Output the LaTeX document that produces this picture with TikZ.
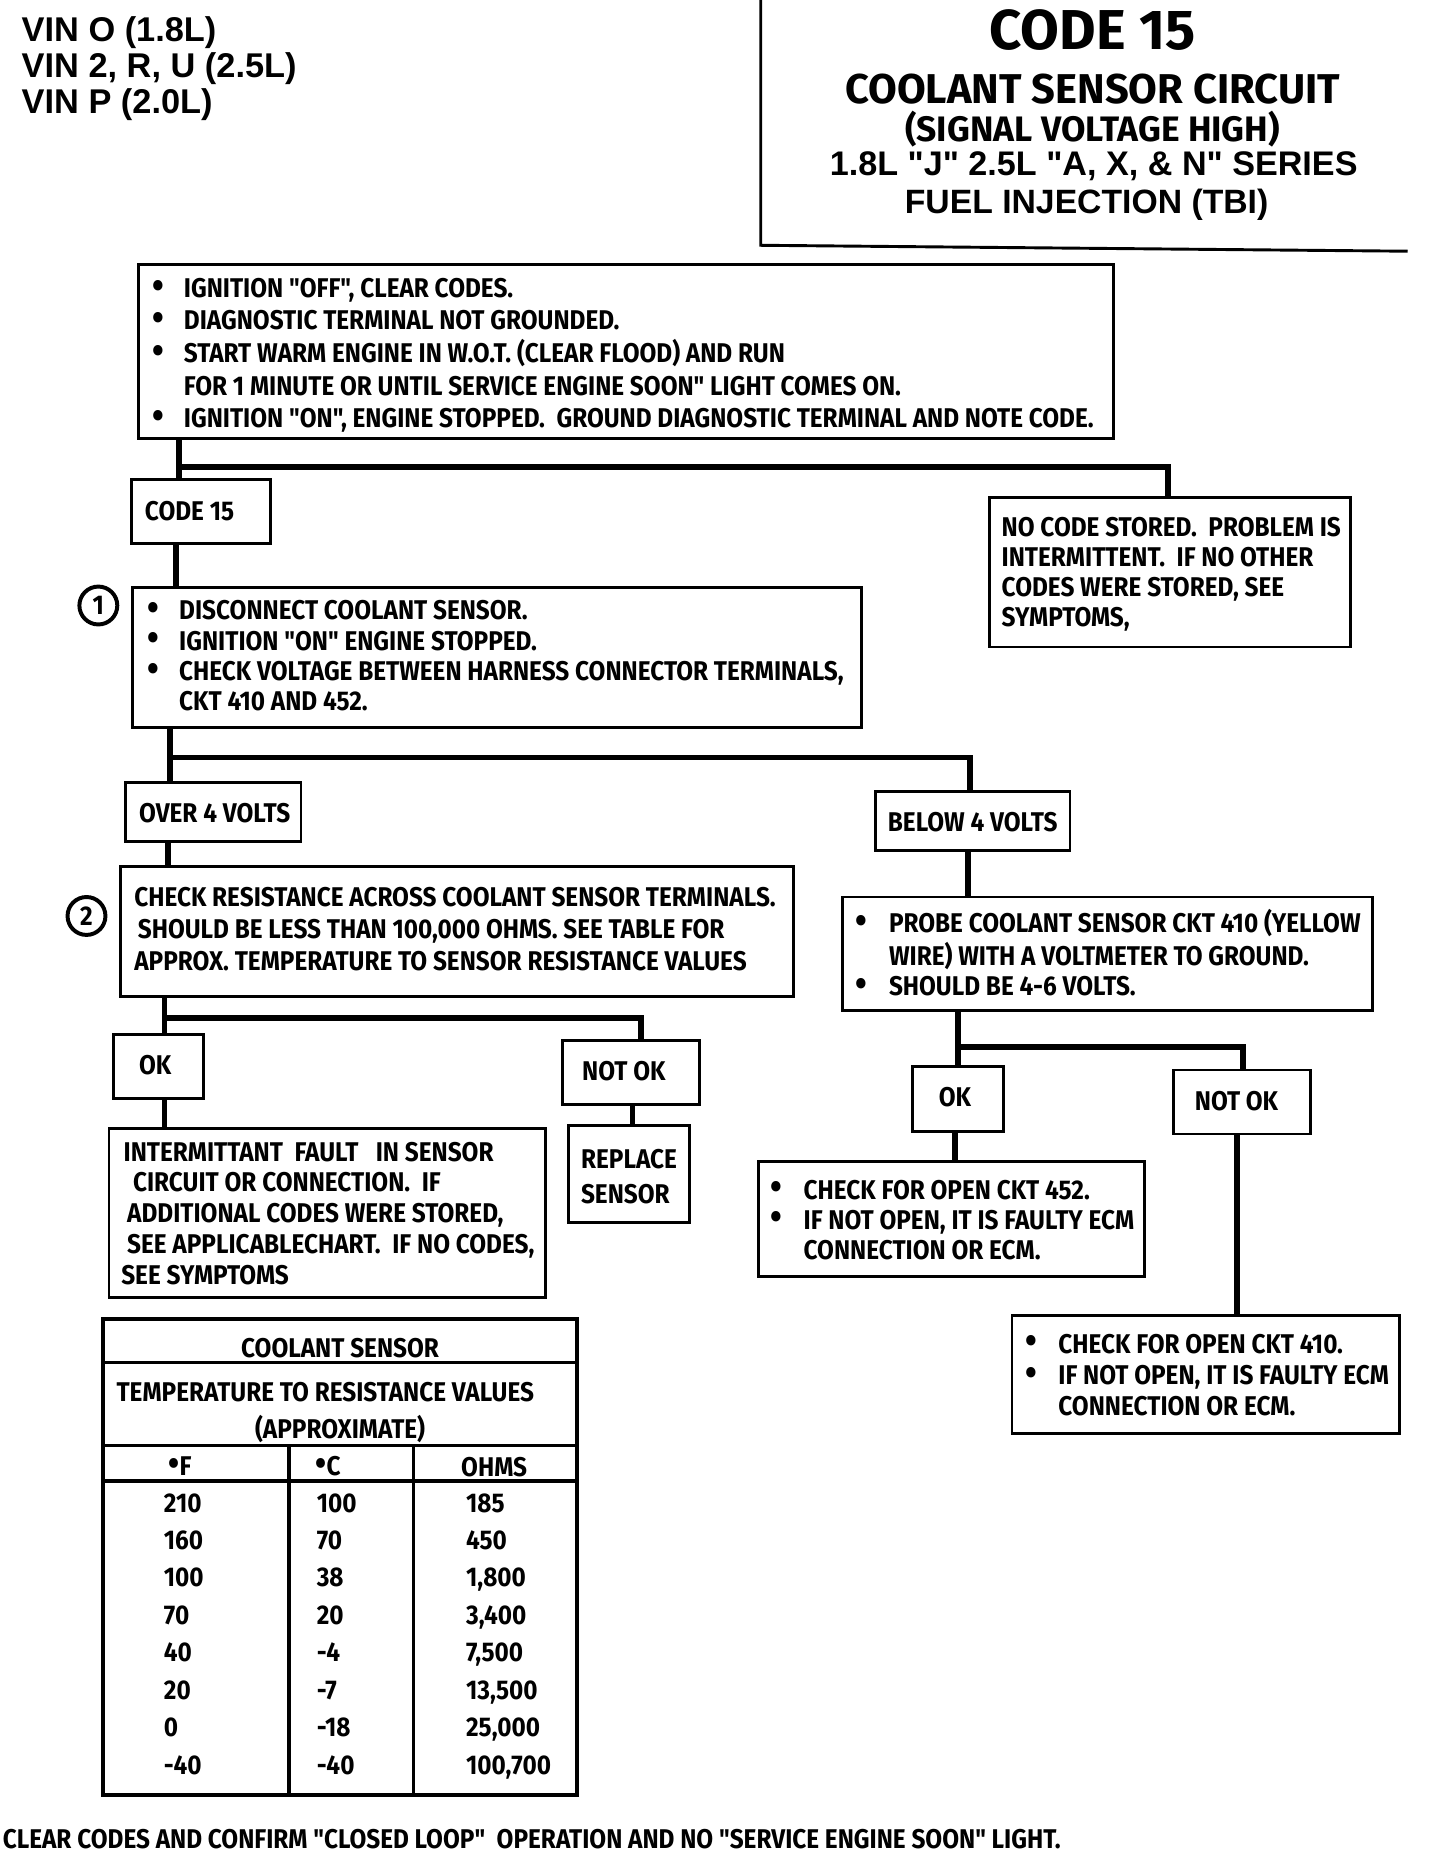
\documentclass[tikz,border=0pt]{standalone}
\usepackage{fontspec}
\setmainfont{Fira Sans}
\newfontfamily\boxfont{Fira Sans}[FakeStretch=0.9]
\newfontfamily\arialfont{Liberation Sans}
\newfontfamily\titlefont{Fira Sans}
\usetikzlibrary{calc,fit}
\newlength\upx \setlength\upx{0.5669pt}
\newcommand\bl[1][27]{\makebox[#1\upx][l]{\smash{\raisebox{-0.3pt}{\fontsize{18}{15}\selectfont •}}}}
\tikzset{
  box/.style={draw, line width=1.4pt, rectangle, inner sep=0pt},
  conn/.style={line width=2.8pt},
  txt/.style={anchor=base west, inner sep=0pt, align=left, font=\boxfont\bfseries\fontsize{13}{#1}\selectfont},
  txt/.default=14.7pt,
  tcell/.style={anchor=base west, inner sep=0pt, font=\boxfont\bfseries\fontsize{13}{15}\selectfont},
  tline/.style={line width=1.7pt},
  circ/.style={draw, circle, line width=1.9pt, minimum size=0.64cm, inner sep=0pt, font=\boxfont\bfseries\fontsize{13}{15}\selectfont},
}
\begin{document}
\begin{tikzpicture}[x=0.02cm, y=-0.02cm]
\useasboundingbox (0,0) rectangle (1215,1568);

% ---------- header ----------
\node[anchor=base west, inner sep=0pt, font=\arialfont\bfseries\fontsize{16.5}{17.3}\selectfont] (vin) at (18,35)
  {\begin{tabular}[t]{@{}l@{}}VIN O (1.8L)\\VIN 2, R, U (2.5L)\\VIN P (2.0L)\end{tabular}};
\draw[line width=1.4pt] (642,0) -- (642,207) -- (1188,212);
\node[anchor=base, inner sep=0pt, font=\titlefont\bfseries\fontsize{27}{28}\selectfont] (t1) at (922,42) {CODE 15};
\node[anchor=base, inner sep=0pt, font=\titlefont\bfseries\fontsize{20}{22}\selectfont] (t2) at (922,87) {COOLANT SENSOR CIRCUIT};
\node[anchor=base, inner sep=0pt, font=\titlefont\bfseries\fontsize{17}{19}\selectfont] (t3) at (922,119) {(SIGNAL VOLTAGE HIGH)};
\node[anchor=base, inner sep=0pt, font=\arialfont\bfseries\fontsize{16.4}{18}\selectfont] (t4) at (923,148) {1.8L "J" 2.5L "A, X, \& N" SERIES};
\node[anchor=base, inner sep=0pt, font=\arialfont\bfseries\fontsize{16.2}{18}\selectfont] (t5) at (917,180) {FUEL INJECTION (TBI)};

% ---------- boxes ----------
\node[box, fit={(117,223) (940,370)}] (A) {};
\node[box, fit={(111,405) (228,459)}] (c15) {};
\node[box, fit={(835,420) (1140,546)}] (nc) {};
\node[box, fit={(112,496) (727,614)}] (B1) {};
\node[box, fit={(106,660) (254,710)}] (ov) {};
\node[box, fit={(739,668) (903,718)}] (be) {};
\node[box, fit={(102,731) (670,841)}] (B2) {};
\node[box, fit={(96,873) (172,927)}] (ok1) {};
\node[box, fit={(475,878) (590,932)}] (nk1) {};
\node[box, fit={(92,952) (460,1095)}] (inter) {};
\node[box, fit={(480,950) (582,1032)}] (repl) {};
\node[box, fit={(711,757) (1158,853)}] (probe) {};
\node[box, fit={(770,900) (847,955)}] (ok2) {};
\node[box, fit={(990,903) (1106,957)}] (nk2) {};
\node[box, fit={(640,980) (966,1077)}] (c452) {};
\node[box, fit={(854,1110) (1181,1210)}] (c410) {};

\node[circ] (n1) at (83,511) {1};
\node[circ] (n2) at (73,773) {2};

% ---------- texts ----------
\node[txt=15.6pt] (At) at (128,251) {\begin{tabular}[t]{@{}l@{}l@{}}
\bl & IGNITION "OFF", CLEAR CODES.\\
\bl & DIAGNOSTIC TERMINAL NOT GROUNDED.\\
\bl & START WARM ENGINE IN W.O.T. (CLEAR FLOOD) AND RUN\\
    & FOR 1 MINUTE OR UNTIL SERVICE ENGINE SOON" LIGHT COMES ON.\\
\bl & IGNITION "ON", ENGINE STOPPED.\ \ GROUND DIAGNOSTIC TERMINAL AND NOTE CODE.
\end{tabular}};
\node[txt] (c15t) at (122,439) {CODE 15};
\node[txt=14.35pt] (nct) at (845,453) {\begin{tabular}[t]{@{}l@{}}
NO CODE STORED.\ \ PROBLEM IS\\
INTERMITTENT.\ \ IF NO OTHER\\
CODES WERE STORED, SEE\\
SYMPTOMS,
\end{tabular}};
\node[txt=14.6pt] (B1t) at (124,523) {\begin{tabular}[t]{@{}l@{}l@{}}
\bl & DISCONNECT COOLANT SENSOR.\\
\bl & IGNITION "ON" ENGINE STOPPED.\\
\bl & CHECK VOLTAGE BETWEEN HARNESS CONNECTOR TERMINALS,\\
    & CKT 410 AND 452.
\end{tabular}};
\node[txt] (ovt) at (117,694) {OVER 4 VOLTS};
\node[txt] (bet) at (749,702) {BELOW 4 VOLTS};
\node[txt=15.3pt] (B2t) at (113,765) {\begin{tabular}[t]{@{}l@{}}
CHECK RESISTANCE ACROSS COOLANT SENSOR TERMINALS.\\
\hspace{3\upx}SHOULD BE LESS THAN 100,000 OHMS. SEE TABLE FOR\\
APPROX. TEMPERATURE TO SENSOR RESISTANCE VALUES
\end{tabular}};
\node[txt] (ok1t) at (117,907) {OK};
\node[txt] (nk1t) at (491,912) {NOT OK};
\node[txt=14.75pt] (intert) at (102,980) {\begin{tabular}[t]{@{}l@{}}
\hspace{2\upx}INTERMITTANT\ \ FAULT\ \ \ IN SENSOR\\
\hspace{10\upx}CIRCUIT OR CONNECTION.\ \ IF\\
\hspace{5\upx}ADDITIONAL CODES WERE STORED,\\
\hspace{5\upx}SEE APPLICABLECHART.\ \ IF NO CODES,\\
SEE SYMPTOMS
\end{tabular}};
\node[txt=17pt] (replt) at (490,986) {\begin{tabular}[t]{@{}l@{}}REPLACE\\SENSOR\end{tabular}};
\node[txt=14.75pt] (probet) at (722,787) {\begin{tabular}[t]{@{}l@{}l@{}}
\bl[28] & PROBE COOLANT SENSOR CKT 410 (YELLOW\\
        & WIRE) WITH A VOLTMETER TO GROUND.\\
\bl[28] & SHOULD BE 4-6 VOLTS.
\end{tabular}};
\node[txt] (ok2t) at (792,934) {OK};
\node[txt] (nk2t) at (1008,937) {NOT OK};
\node[txt=14.46pt] (c452t) at (650,1012) {\begin{tabular}[t]{@{}l@{}l@{}}
\bl[28] & CHECK FOR OPEN CKT 452.\\
\bl[28] & IF NOT OPEN, IT IS FAULTY ECM\\
        & CONNECTION OR ECM.
\end{tabular}};
\node[txt=15pt] (c410t) at (865,1142) {\begin{tabular}[t]{@{}l@{}l@{}}
\bl[28] & CHECK FOR OPEN CKT 410.\\
\bl[28] & IF NOT OPEN, IT IS FAULTY ECM\\
        & CONNECTION OR ECM.
\end{tabular}};

% ---------- connectors ----------
\draw[conn] ($(A.south west)+(35,0)$) coordinate (p1) -- (p1 |- c15.north);
\draw[conn] ($(A.south west)+(35,23)$) -| ($(nc.north west)+(152,0)$);
\draw[conn] ($(c15.south west)+(39,0)$) coordinate (p2) -- (p2 |- B1.north);
\draw[conn] ($(B1.south west)+(33,0)$) coordinate (p3) -- (p3 |- ov.north);
\draw[conn] ($(B1.south west)+(33,24)$) -| ($(be.north west)+(81,0)$);
\draw[conn] ($(ov.south west)+(37,0)$) coordinate (p4) -- (p4 |- B2.north);
\draw[conn] ($(B2.south west)+(38,0)$) coordinate (p5) -- (p5 |- ok1.north);
\draw[conn] ($(B2.south west)+(38,17)$) -| ($(nk1.north west)+(67,0)$);
\draw[conn] ($(ok1.south west)+(44,0)$) coordinate (p6) -- (p6 |- inter.north);
\draw[conn] ($(nk1.south west)+(60,0)$) coordinate (p7) -- (p7 |- repl.north);
\draw[conn] ($(be.south west)+(79,0)$) coordinate (p8) -- (p8 |- probe.north);
\draw[conn] ($(probe.south west)+(99,0)$) coordinate (p9) -- (p9 |- ok2.north);
\draw[conn] ($(probe.south west)+(99,29)$) -| ($(nk2.north west)+(60,0)$);
\draw[conn] ($(ok2.south west)+(37,0)$) coordinate (p10) -- (p10 |- c452.north);
\draw[conn] ($(nk2.south west)+(55,0)$) coordinate (p11) -- (p11 |- c410.north);

% ---------- table ----------
\draw[tline] (87,1113) rectangle (487,1515);
\draw[tline] (87,1150) -- (487,1150);
\draw[tline] (87,1220) -- (487,1220);
\draw[tline] (87,1250) -- (487,1250);
\draw[tline] (244,1220) -- (244,1515);
\draw[tline] (349,1220) -- (349,1515);
\node[tcell, anchor=base] (th1) at (287,1146) {COOLANT SENSOR};
\node[tcell] (th2) at (98,1183) {TEMPERATURE TO RESISTANCE VALUES};
\node[tcell, anchor=base] (th3) at (287,1214) {(APPROXIMATE)};
\node[tcell, anchor=base] (hF) at (152,1245) {{\fontsize{17}{15}\selectfont •}F};
\node[tcell, anchor=base] (hC) at (277,1245) {{\fontsize{17}{15}\selectfont •}C};
\node[tcell, anchor=base] (hO) at (417,1246) {OHMS};
\foreach \f/\c/\o [count=\i from 0] in {210/100/185, 160/70/450, 100/38/{1,800}, 70/20/{3,400}, 40/-4/{7,500}, 20/-7/{13,500}, 0/-18/{25,000}, -40/-40/{100,700}} {
  \node[tcell] (rf\i) at (138,1276+31.6*\i) {\f};
  \node[tcell] (rc\i) at (267,1276+31.6*\i) {\c};
  \node[tcell] (ro\i) at (393,1276+31.6*\i) {\o};
}

% ---------- footer ----------
\node[txt] (foot) at (2,1560) {CLEAR CODES AND CONFIRM "CLOSED LOOP"\ \ OPERATION AND NO "SERVICE ENGINE SOON" LIGHT.};
\end{tikzpicture}
\end{document}
